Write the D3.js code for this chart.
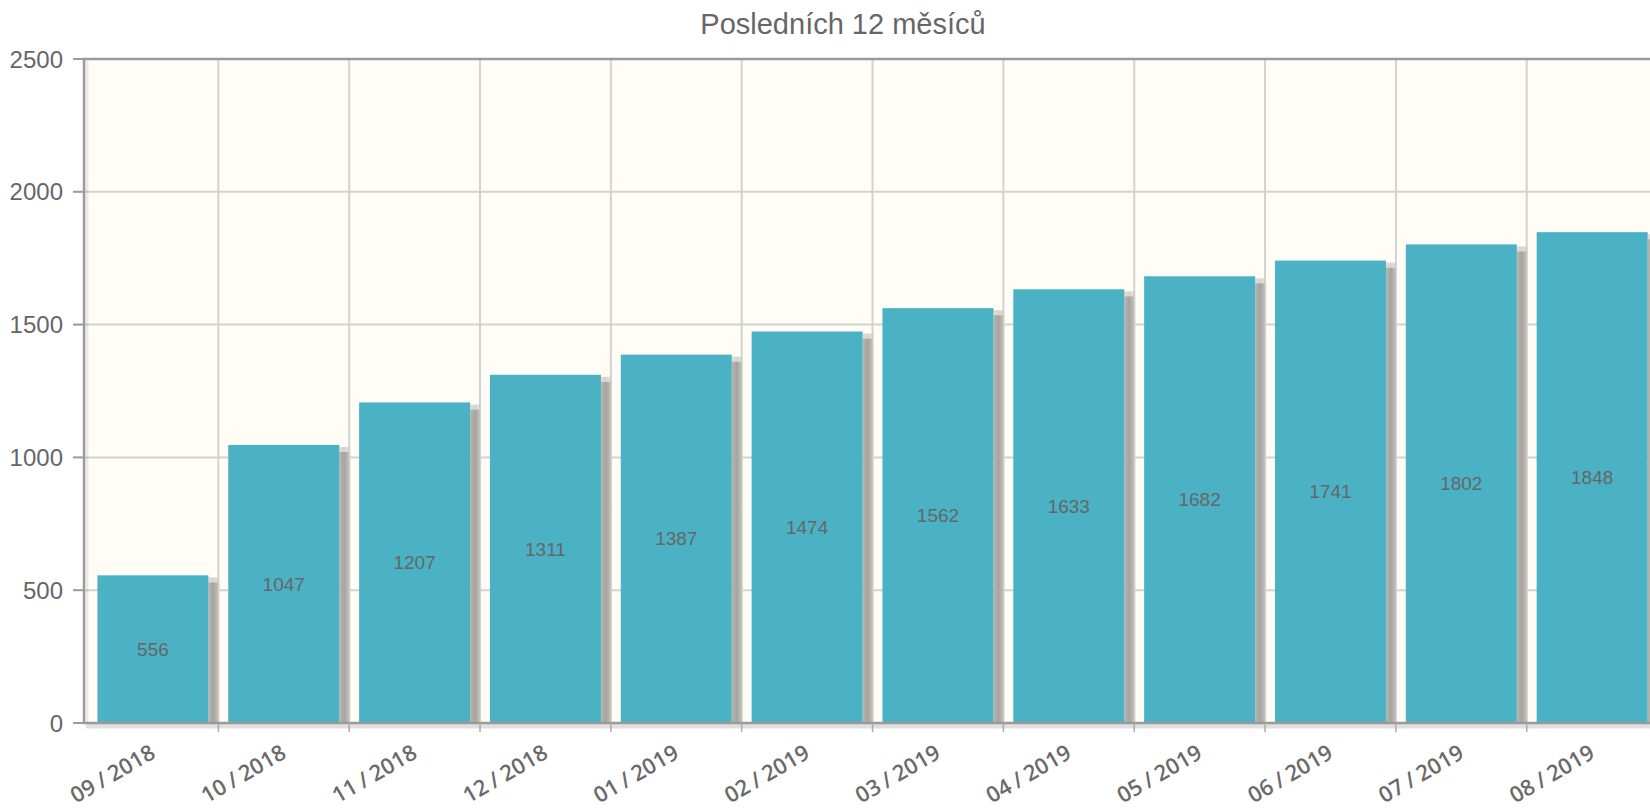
<!DOCTYPE html>
<html>
<head>
<meta charset="utf-8">
<script src="https://cdn.jsdelivr.net/npm/d3@7"></script>
<style>
  body { margin: 0; background: #fff; overflow: hidden; }
  text { font-family: "Liberation Sans", Arial, sans-serif; }
</style>
</head>
<body>
<script>
const width = 1650;
const height = 811;

const months = ["09 / 2018", "10 / 2018", "11 / 2018", "12 / 2018", "01 / 2019", "02 / 2019",
                "03 / 2019", "04 / 2019", "05 / 2019", "06 / 2019", "07 / 2019", "08 / 2019"];
const counts = [556, 1047, 1207, 1311, 1387, 1474, 1562, 1633, 1682, 1741, 1802, 1848];
const yTicks = [0, 500, 1000, 1500, 2000, 2500];

const title = "Posledních 12 měsíců";
const barColor = "#4bb2c5";

// plot area (the chart is wider than the window, right side is cut off)
const plotLeft = 84, plotTop = 59, plotBottom = 723;
const catLeft = 87.5, catWidth = 130.84;
const barWidth = 111;

const svg = d3.select('body')
  .append('svg')
  .attr('width', width)
  .attr('height', height);

// shadow gradient, darkest in the middle of the band
const defs = svg.append("defs");
const grad = defs.append("linearGradient")
    .attr("id", "shadow")
    .attr("x1", "0").attr("x2", "1").attr("y1", "0").attr("y2", "0");
grad.append("stop").attr("offset", "0%").attr("stop-color", "#b8b6b0");
grad.append("stop").attr("offset", "45%").attr("stop-color", "#a6a49e");
grad.append("stop").attr("offset", "80%").attr("stop-color", "#bcbab4");
grad.append("stop").attr("offset", "100%").attr("stop-color", "#dcdad2");

var x = d3.scaleBand()
    .domain(months)
    .range([catLeft, catLeft + catWidth * months.length])
    .padding(0);

var y = d3.scaleLinear()
    .domain([0, 2500])
    .range([plotBottom, plotTop]);

// background
svg.append("rect")
    .attr("x", plotLeft)
    .attr("y", plotTop)
    .attr("width", width + 20 - plotLeft)
    .attr("height", plotBottom - plotTop)
    .attr("fill", "#fffdf6");

// horizontal grid
svg.append("g")
    .selectAll("line")
    .data(yTicks.slice(1, -1))
    .enter().append("line")
    .attr("x1", plotLeft).attr("x2", width + 20)
    .attr("y1", d => y(d)).attr("y2", d => y(d))
    .attr("stroke", "#d2d2d2")
    .attr("stroke-width", 2);

// vertical grid at category boundaries
var bounds = months.slice(1).map(m => x(m));
svg.append("g")
    .selectAll("line")
    .data(bounds)
    .enter().append("line")
    .attr("x1", d => d).attr("x2", d => d)
    .attr("y1", plotTop).attr("y2", plotBottom)
    .attr("stroke", "#d2d2d2")
    .attr("stroke-width", 2);

// border shadow
svg.append("line")
    .attr("x1", plotLeft + 2).attr("x2", width + 20)
    .attr("y1", plotBottom + 3).attr("y2", plotBottom + 3)
    .attr("stroke", "#000").attr("stroke-opacity", 0.12).attr("stroke-width", 5);
svg.append("line")
    .attr("x1", plotLeft + 3).attr("x2", plotLeft + 3)
    .attr("y1", plotTop + 2).attr("y2", plotBottom)
    .attr("stroke", "#000").attr("stroke-opacity", 0.08).attr("stroke-width", 3);

// bar shadows
var shadows = svg.append("g")
    .selectAll("g")
    .data(counts)
    .enter().append("g");
shadows.append("rect")
    .attr("x", (d, i) => x(months[i]) + x.bandwidth() / 2 + barWidth / 2)
    .attr("y", d => y(d) + 7)
    .attr("width", 11)
    .attr("height", d => plotBottom - y(d) - 7)
    .attr("fill", "url(#shadow)");
shadows.append("rect")
    .attr("x", (d, i) => x(months[i]) + x.bandwidth() / 2 + barWidth / 2)
    .attr("y", d => y(d) + 2)
    .attr("width", 11)
    .attr("height", 5)
    .attr("fill", "url(#shadow)")
    .attr("opacity", 0.45);

// bars
svg.append("g")
    .selectAll("rect")
    .data(counts)
    .enter().append("rect")
    .attr("x", (d, i) => x(months[i]) + x.bandwidth() / 2 - barWidth / 2)
    .attr("y", d => y(d))
    .attr("width", barWidth)
    .attr("height", d => plotBottom - y(d))
    .attr("fill", barColor);

// value labels, middle of the bar
svg.append("g")
    .selectAll("text")
    .data(counts)
    .enter().append("text")
    .attr("x", (d, i) => x(months[i]) + x.bandwidth() / 2)
    .attr("y", d => (y(d) + plotBottom) / 2)
    .attr("dy", "0.35em")
    .attr("text-anchor", "middle")
    .style("font-size", "19px")
    .style("fill", "#666")
    .text(d => d);

// border
svg.append("line")
    .attr("x1", plotLeft).attr("x2", width + 20)
    .attr("y1", plotTop).attr("y2", plotTop)
    .attr("stroke", "#9a9a9a").attr("stroke-width", 2.5);
svg.append("line")
    .attr("x1", plotLeft).attr("x2", width + 20)
    .attr("y1", plotBottom).attr("y2", plotBottom)
    .attr("stroke", "#9a9a9a").attr("stroke-width", 2.5);
svg.append("line")
    .attr("x1", plotLeft).attr("x2", plotLeft)
    .attr("y1", plotTop - 1.25).attr("y2", plotBottom + 1.25)
    .attr("stroke", "#9a9a9a").attr("stroke-width", 2.5);

// y axis ticks + labels
var yAxis = svg.append("g");
yAxis.selectAll("line")
    .data(yTicks)
    .enter().append("line")
    .attr("x1", plotLeft - 11).attr("x2", plotLeft)
    .attr("y1", d => y(d)).attr("y2", d => y(d))
    .attr("stroke", "#9a9a9a").attr("stroke-width", 2);
yAxis.selectAll("text")
    .data(yTicks)
    .enter().append("text")
    .attr("x", 63)
    .attr("y", d => y(d))
    .attr("dy", "0.36em")
    .attr("text-anchor", "end")
    .style("font-size", "24px")
    .style("fill", "#666")
    .text(d => d);

// x axis ticks at category boundaries
svg.append("g")
    .selectAll("line")
    .data(bounds)
    .enter().append("line")
    .attr("x1", d => d).attr("x2", d => d)
    .attr("y1", plotBottom).attr("y2", plotBottom + 9)
    .attr("stroke", "#aaa").attr("stroke-width", 1.5);

// rotated month labels (kept inside the bottom edge)
svg.append("g")
    .selectAll("text")
    .data(months)
    .enter().append("text")
    .attr("transform", d => "translate(" + (x(d) + x.bandwidth() / 2 + 4) + "," + 757 + ") rotate(-30)")
    .attr("text-anchor", "end")
    .style("font-family", "'Open Sans', sans-serif")
    .style("font-size", "22px")
    .style("font-weight", "600")
    .style("word-spacing", "-1px")
    .style("fill", "#6a6a6a")
    .text(d => d);

// title
svg.append("text")
    .attr("x", 843)
    .attr("y", 34)
    .attr("text-anchor", "middle")
    .style("font-size", "29px")
    .style("fill", "#666")
    .text(title);
</script>
</body>
</html>
